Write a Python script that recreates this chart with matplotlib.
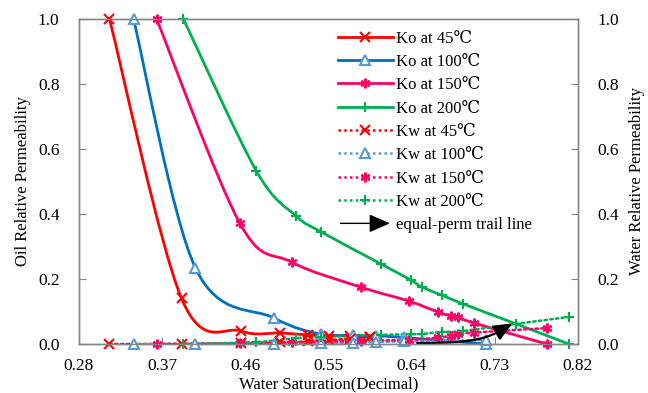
import numpy as np
import matplotlib
matplotlib.use("Agg")
import matplotlib.pyplot as plt
from matplotlib.path import Path
from matplotlib.patches import PathPatch, FancyArrowPatch
from matplotlib.lines import Line2D
from matplotlib.legend_handler import HandlerPatch

plt.rcParams['font.family'] = ['Liberation Serif', 'DejaVu Serif']

# data
sw_45 = [0.313, 0.391, 0.455, 0.498, 0.528, 0.551, 0.573, 0.595]
ko_45 = [1.0, 0.14, 0.04, 0.034, 0.028, 0.026, 0.024, 0.022]
kw_45 = [0.0, 0.0, 0.002, 0.005, 0.008, 0.012, 0.016, 0.02]

sw_100 = [0.339, 0.406, 0.491, 0.542, 0.577, 0.601, 0.632, 0.720]
ko_100 = [1.0, 0.234, 0.08, 0.03, 0.027, 0.025, 0.02, 0.0]
kw_100 = [0.0, 0.0, 0.0, 0.002, 0.004, 0.006, 0.008, 0.012]

sw_150 = [0.364, 0.454, 0.510, 0.585, 0.637, 0.669, 0.683, 0.690, 0.707, 0.786]
ko_150 = [1.0, 0.372, 0.252, 0.175, 0.132, 0.098, 0.086, 0.083, 0.065, 0.0]
kw_150 = [0.0, 0.002, 0.005, 0.01, 0.013, 0.02, 0.026, 0.03, 0.035, 0.049]

sw_200 = [0.393, 0.472, 0.515, 0.542, 0.607, 0.639, 0.651, 0.673, 0.696, 0.753, 0.810]
ko_200 = [1.0, 0.532, 0.394, 0.345, 0.246, 0.197, 0.175, 0.15, 0.123, 0.062, 0.0]
kw_200 = [0.0, 0.006, 0.018, 0.022, 0.028, 0.03, 0.031, 0.037, 0.04, 0.062, 0.083]

trail_x = [0.646, 0.683, 0.710, 0.730, 0.749]
trail_y = [0.003, 0.005, 0.014, 0.032, 0.063]

xticks = [0.28, 0.37, 0.46, 0.55, 0.64, 0.73, 0.82]
yticks = [0.0, 0.2, 0.4, 0.6, 0.8, 1.0]


def smooth_path(x, y):
    # excel-style smoothed line as cubic bezier segments
    p = np.column_stack([x, y]).astype(float)
    n = len(p)
    verts = [p[0]]
    codes = [Path.MOVETO]
    for i in range(n - 1):
        p0 = p[i - 1] if i > 0 else p[i]
        p3 = p[i + 2] if i + 2 < n else p[i + 1]
        c1 = p[i] + (p[i + 1] - p0) / 6
        c2 = p[i + 1] - (p3 - p[i]) / 6
        verts += [c1, c2, p[i + 1]]
        codes += [Path.CURVE4] * 3
    return Path(verts, codes)


red = '#FF0000'
blue = '#0070C0'
lblue = '#5B9BD5'
pink = '#FF0066'
green = '#00B050'
star = (6, 2, 0)
dot = (0, (1, 1.3))

series = [
    (sw_45, ko_45, red, red, 'x', '-', 'Ko at 45\u2103'),
    (sw_100, ko_100, blue, lblue, '^', '-', 'Ko at 100\u2103'),
    (sw_150, ko_150, pink, pink, star, '-', 'Ko at 150\u2103'),
    (sw_200, ko_200, green, green, '+', '-', 'Ko at 200\u2103'),
    (sw_45, kw_45, red, red, 'x', dot, 'Kw at 45\u2103'),
    (sw_100, kw_100, lblue, lblue, '^', dot, 'Kw at 100\u2103'),
    (sw_150, kw_150, pink, pink, star, dot, 'Kw at 150\u2103'),
    (sw_200, kw_200, green, green, '+', dot, 'Kw at 200\u2103'),
]

fig = plt.figure(figsize=(6.48, 3.93), dpi=100)
ax = fig.add_axes([0.1219, 0.1247, 0.770, 0.827])

handles = []
for x, y, lc, mc, mk, ls, lab in series:
    ax.add_patch(PathPatch(smooth_path(x, y), fill=False, edgecolor=lc,
                           lw=2.0 if ls == '-' else 1.8, linestyle=ls,
                           capstyle='round', zorder=2))
    mfc = 'white' if mk == '^' else mc
    ax.plot(x, y, linestyle='none', marker=mk, markersize=7 if mk != '^' else 6.5,
            markeredgecolor=mc, markerfacecolor=mfc, markeredgewidth=1.5, zorder=3,
            clip_on=False)
    handles.append(Line2D([], [], color=lc, lw=2.0 if ls == '-' else 1.8, linestyle=ls,
                          marker=mk, markersize=7 if mk != '^' else 6.5,
                          markeredgecolor=mc, markerfacecolor=mfc,
                          markeredgewidth=1.5, label=lab))

# equal-perm trail line
arrow = FancyArrowPatch(path=smooth_path(trail_x, trail_y), arrowstyle='-|>,head_length=0.8,head_width=0.35',
                        mutation_scale=14, color='black', lw=1.6, zorder=4)
ax.add_patch(arrow)
arrow_proxy = FancyArrowPatch((0, 0), (1, 1), color='black', label='equal-perm trail line')
handles.append(arrow_proxy)


def make_arrow(legend, orig_handle, xdescent, ydescent, width, height, fontsize):
    return FancyArrowPatch((-xdescent, height / 2 - ydescent), (width - xdescent, height / 2 - ydescent),
                           arrowstyle='-|>,head_length=0.8,head_width=0.35',
                           mutation_scale=16, color='black', lw=1.6)


ax.set_xlim(0.28, 0.82)
ax.set_ylim(0, 1.0)
ax.set_xticks(xticks)
ax.set_xticklabels(['%.2f' % v for v in xticks])
ax.set_yticks(yticks)
ax.set_yticklabels(['%.1f' % v for v in yticks])
ax.set_xlabel('Water Saturation(Decimal)', fontsize=12, labelpad=2)
ax.set_ylabel('Oil Relative Permeability', fontsize=12, labelpad=5)

ax2 = ax.twinx()
ax2.set_ylim(0, 1.0)
ax2.set_yticks(yticks)
ax2.set_yticklabels(['%.1f' % v for v in yticks])
ax2.set_ylabel('Water Relative Permeability', fontsize=12, labelpad=7)

for a in (ax, ax2):
    for s in a.spines.values():
        s.set_color('#868686')
        s.set_linewidth(1.0)
    a.tick_params(direction='in', length=5, color='#868686', labelsize=12.5, pad=14)
ax.tick_params(axis='x', pad=10)

leg = ax.legend(handles=handles, loc='upper left', bbox_to_anchor=(0.505, 0.985),
                frameon=False, fontsize=12, handlelength=3.3, handletextpad=0.2,
                labelspacing=0.44, borderaxespad=0, numpoints=1,
                handler_map={FancyArrowPatch: HandlerPatch(patch_func=make_arrow)})
leg.set_zorder(5)

fig.savefig('out.png', dpi=100)
